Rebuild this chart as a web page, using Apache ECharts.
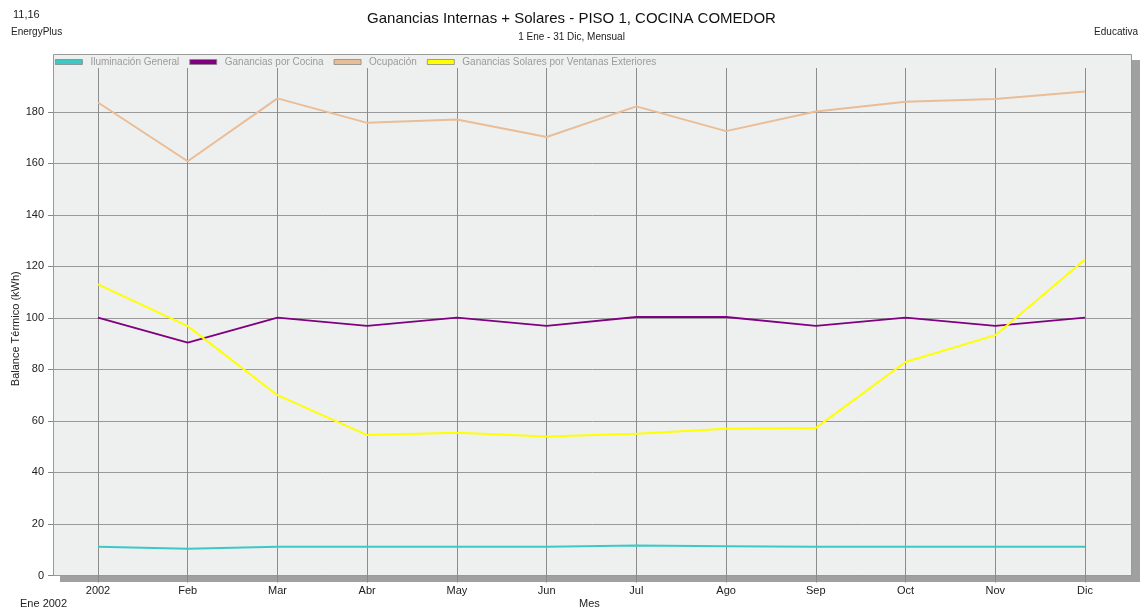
<!DOCTYPE html>
<html><head><meta charset="utf-8">
<script src="https://cdn.jsdelivr.net/npm/echarts@6/dist/echarts.min.js"></script>
<style>html,body{margin:0;padding:0;background:#fff}#c{width:1143px;height:614px}</style>
</head><body><div id="c"></div>
<script>
const months = ['2002','Feb','Mar','Abr','May','Jun','Jul','Ago','Sep','Oct','Nov','Dic'];
const yTicks = [0,20,40,60,80,100,120,140,160,180];
const iluminacion = [11.2,10.4,11.2,11.2,11.2,11.2,11.6,11.4,11.2,11.2,11.2,11.2];
const cocina = [100.1,90.4,100.1,96.9,100.1,96.9,100.3,100.3,96.9,100.1,96.9,100.1];
const ocupacion = [183.6,160.8,185.2,175.7,177.0,170.2,182.1,172.5,180.1,183.9,185.0,187.9];
const solares = [113.0,96.8,70.0,54.5,55.4,54.0,55.0,57.0,57.3,82.9,93.3,122.7];
const names = ['Iluminación General','Ganancias por Cocina','Ocupación','Ganancias Solares por Ventanas Exteriores'];
const colors = ['#3cc9c6','#800080','#e9bd97','#ffff00'];
const FONT = 'Liberation Sans, Arial, sans-serif';
const YMAX = 197;

const chart = echarts.init(document.getElementById('c'), null, {renderer:'canvas'});
const mk = (name, data, i) => ({
  name, type:'line', data, xAxisIndex:1, yAxisIndex:1, symbol:'none',
  lineStyle:{color:colors[i], width:2}, itemStyle:{color:colors[i]}, z: 3
});
chart.setOption({
  animation:false,
  textStyle:{fontFamily:FONT},
  graphic:[
    {type:'rect', z:-20, shape:{x:60, y:60, width:1080, height:522}, style:{fill:'#a0a0a0'}},
    {type:'rect', z:-10, shape:{x:53.5, y:54.5, width:1078, height:521}, style:{fill:'#eef0ef', stroke:'#999', lineWidth:1}}
  ],
  title:[
    {text:'Ganancias Internas + Solares - PISO 1, COCINA COMEDOR', left:'center', top:6,
     textStyle:{fontSize:15, fontWeight:'normal', color:'#111', fontFamily:FONT}},
    {text:'1 Ene - 31 Dic, Mensual', left:'center', top:27, textStyle:{fontSize:10, fontWeight:'normal', color:'#222', fontFamily:FONT}},
    {text:'11,16', left:8, top:4, textStyle:{fontSize:11, fontWeight:'normal', color:'#222', fontFamily:FONT}},
    {text:'EnergyPlus', left:6, top:22, textStyle:{fontSize:10, fontWeight:'normal', color:'#222', fontFamily:FONT}},
    {text:'Educativa', right:0, top:22, textStyle:{fontSize:10, fontWeight:'normal', color:'#222', fontFamily:FONT}},
    {text:'Ene 2002', left:15, top:593, textStyle:{fontSize:11, fontWeight:'normal', color:'#222', fontFamily:FONT}},
    {text:'Mes', left:574, top:593, textStyle:{fontSize:11, fontWeight:'normal', color:'#222', fontFamily:FONT}}
  ],
  legend:{
    data:names, left:51, top:55, padding:[2,4,2,4], itemGap:10, itemWidth:27, itemHeight:5,
    icon:'rect', itemStyle:{borderColor:'#888', borderWidth:0.8},
    textStyle:{fontSize:10, color:'#9a9a9a', fontFamily:FONT, padding:[0,0,0,3]}
  },
  grid:[
    {left:53, right:11, top:68, bottom:38.5, show:false, containLabel:false, outerBoundsMode:'none'},
    {left:98, right:58, top:68, bottom:38.5, show:false, containLabel:false, outerBoundsMode:'none'}
  ],
  xAxis:[
    {type:'value', gridIndex:0, min:0, max:1, show:false},
    {type:'category', gridIndex:1, data:months, boundaryGap:false,
     axisLine:{show:false},
     axisTick:{show:true, length:7, lineStyle:{color:'#888'}},
     axisLabel:{fontSize:11, color:'#222', margin:10, fontFamily:FONT, interval:0},
     splitLine:{show:true, lineStyle:{color:'#8c8c8c', width:1}}}
  ],
  yAxis:[
    {type:'value', gridIndex:0, min:0, max:YMAX, interval:20,
     name:'Balance Térmico (kWh)', nameLocation:'middle', nameGap:32, nameMoveOverlap:false,
     nameTextStyle:{fontSize:11, color:'#222', fontFamily:FONT, padding:[0,0,0,-14]},
     axisLine:{show:true, lineStyle:{color:'#999'}},
     axisTick:{show:true, length:5, lineStyle:{color:'#888'}},
     axisLabel:{fontSize:11, color:'#222', margin:9, fontFamily:FONT, showMaxLabel:false,
       formatter:v => yTicks.includes(v) ? String(v) : ''},
     splitLine:{show:true, showMaxLine:false, lineStyle:{color:'#999', width:1}}},
    {type:'value', gridIndex:1, min:0, max:YMAX, show:false, splitLine:{show:false}}
  ],
  series:[
    mk(names[0], iluminacion, 0),
    mk(names[1], cocina, 1),
    mk(names[2], ocupacion, 2),
    mk(names[3], solares, 3)
  ]
});
</script></body></html>
